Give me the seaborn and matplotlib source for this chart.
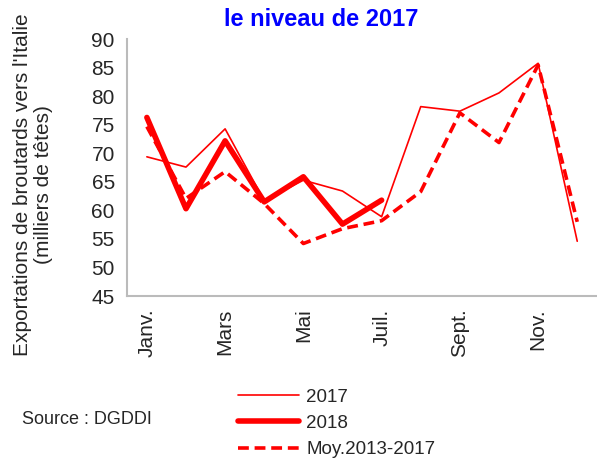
import matplotlib
matplotlib.use("Agg")
import matplotlib.pyplot as plt
import seaborn as sns
import pandas as pd
import numpy as np

months = ["Janv.", "Févr.", "Mars", "Avr.", "Mai", "Juin", "Juil.", "Août",
          "Sept.", "Oct.", "Nov.", "Déc."]
v2017 = [69.4, 67.6, 74.3, 61.7, 65.3, 63.4, 58.9, 78.2, 77.4, 80.6, 85.8, 54.6]
v2018 = [76.3, 60.3, 72.2, 61.5, 65.9, 57.6, 61.8]
vmoy = [74.7, 62.1, 66.8, 61.2, 54.2, 56.8, 58.2, 63.3, 77.1, 71.9, 85.5, 58.0]
yticks = [45, 50, 55, 60, 65, 70, 75, 80, 85, 90]

sns.set_style("white")
plt.rcParams['font.family'] = ['Liberation Sans', 'DejaVu Sans']

fig = plt.figure(figsize=(5.97, 4.59), dpi=100)
ax = fig.add_axes([127.3/597, 1-296/459, (596.8-127.3)/597, (296-39.3)/459])

df17 = pd.DataFrame({"m": np.arange(len(v2017)), "v": v2017})
df18 = pd.DataFrame({"m": np.arange(len(v2018)), "v": v2018})
dfm = pd.DataFrame({"m": np.arange(len(vmoy)), "v": vmoy})

red = "#FF0000"
sns.lineplot(data=df17, x="m", y="v", ax=ax, color=red, lw=1.2, label="2017")
sns.lineplot(data=df18, x="m", y="v", ax=ax, color=red, lw=4.0, label="2018",
             solid_capstyle="round", solid_joinstyle="round")
sns.lineplot(data=dfm, x="m", y="v", ax=ax, color=red, lw=2.6, label="Moy.2013-2017",
             linestyle=(0, (3, 1.6)))
ax.get_legend().remove()

ax.set_xlim(-0.5, 11.5)
ax.set_ylim(45, 90)
ax.set_yticks(yticks)
ax.set_yticklabels([str(t) for t in yticks], fontsize=15)
ax.set_xticks(np.arange(0, 12, 2))
ax.set_xticklabels(months[::2], rotation=90, fontsize=15)
ax.set_xticks(np.arange(-0.5, 12, 1), minor=True)
ax.tick_params(axis="x", which="major", length=0, pad=9)
ax.tick_params(axis="x", which="minor", length=6, color="#BBBBBB", width=1.2, direction="out")
ax.tick_params(axis="y", length=6, color="#BBBBBB", width=1.2, direction="out", pad=3)
ax.set_xlabel("")
ax.set_ylabel("")
for s in ["top", "right"]:
    ax.spines[s].set_visible(False)
for s in ["left", "bottom"]:
    ax.spines[s].set_color("#BBBBBB")
    ax.spines[s].set_linewidth(1.5)

fig.text(33/597, 1-185/459, "Exportations de broutards vers l'Italie\n(milliers de têtes)",
         rotation=90, ha="center", va="center", multialignment="center", fontsize=15,
         linespacing=1.15)
fig.text(321/597, 1-20/459, "le niveau de 2017", color="#0000FF", fontweight="bold",
         ha="center", va="center", fontsize=17)
fig.text(22/597, 1-420/459, "Source : DGDDI", ha="left", va="center", fontsize=13)

handles, labels = ax.get_legend_handles_labels()
fig.legend(handles, labels, loc="upper left", bbox_to_anchor=(229/597, 1-379/459),
           frameon=False, fontsize=13.5, handlelength=3.25, handletextpad=0.37,
           labelspacing=0.5, borderpad=0)

fig.savefig("out.png", dpi=100)
